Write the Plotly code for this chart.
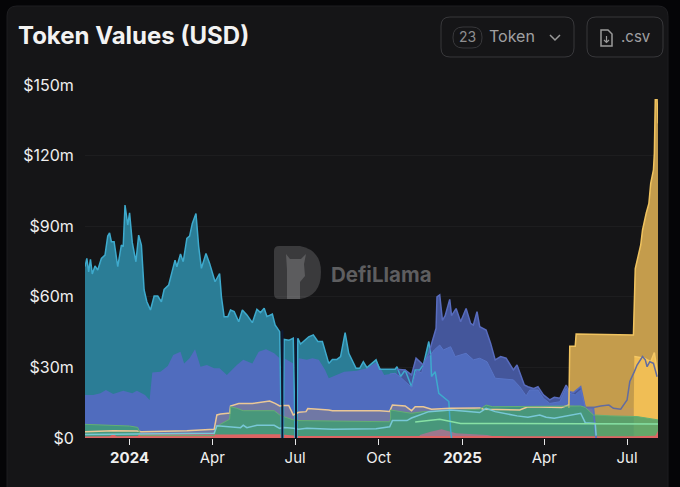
import plotly.graph_objects as go

W, H = 680, 487
FONT = "Inter"

y_ticks = [0, 30, 60, 90, 120, 150]
y_labels = ["$0", "$30m", "$60m", "$90m", "$120m", "$150m"]
x_ticks = ["2024-01-01", "2024-04-01", "2024-07-01", "2024-10-01", "2025-01-01", "2025-04-01", "2025-07-01"]
x_labels = ["<b>2024</b>", "Apr", "Jul", "Oct", "<b>2025</b>", "Apr", "Jul"]

teal_dates = ["2023-11-13", "2023-11-15", "2023-11-17", "2023-11-19", "2023-11-21", "2023-11-24", "2023-11-27",
              "2023-12-01", "2023-12-05", "2023-12-08", "2023-12-10", "2023-12-12", "2023-12-15", "2023-12-19",
              "2023-12-23", "2023-12-25", "2023-12-27", "2023-12-30", "2024-01-01", "2024-01-04", "2024-01-08",
              "2024-01-11", "2024-01-14", "2024-01-17", "2024-01-20", "2024-01-24", "2024-01-28", "2024-02-01",
              "2024-02-05", "2024-02-08", "2024-02-13", "2024-02-17", "2024-02-20", "2024-02-22", "2024-02-26",
              "2024-02-29", "2024-03-04", "2024-03-07", "2024-03-10", "2024-03-14", "2024-03-17", "2024-03-20",
              "2024-03-25", "2024-03-29", "2024-04-04", "2024-04-09", "2024-04-11", "2024-04-14", "2024-04-18",
              "2024-04-21", "2024-04-25", "2024-04-30", "2024-05-04", "2024-05-09", "2024-05-15", "2024-05-20",
              "2024-05-24", "2024-05-28", "2024-05-31", "2024-06-06", "2024-06-09", "2024-06-14", "2024-06-16",
              "2024-06-18", "2024-06-19", "2024-06-24", "2024-06-29", "2024-07-01", "2024-07-03", "2024-07-04",
              "2024-07-07", "2024-07-16", "2024-07-21", "2024-07-26", "2024-07-31", "2024-08-07", "2024-08-11",
              "2024-08-16", "2024-08-20", "2024-08-25", "2024-08-29", "2024-09-06", "2024-09-10", "2024-09-14",
              "2024-09-18", "2024-09-28", "2024-10-02", "2024-10-19", "2024-10-21", "2024-10-25", "2024-10-30",
              "2024-11-06", "2024-11-10", "2024-11-15", "2024-11-19", "2024-11-25", "2024-11-27", "2024-11-28",
              "2024-12-02", "2024-12-06", "2024-12-17", "2024-12-19", "2024-12-20"]
teal_values = [72.8, 76.3, 70.6, 75.9, 69.7, 73.1, 71.4,
               76.3, 77.7, 85.8, 87.2, 83.4, 83.4, 72.8,
               82, 81.3, 99, 90.5, 95.7, 83, 74.9,
               86.2, 82, 62.9, 57.9, 54.4, 60.3, 60.3,
               57.9, 63.1, 65, 70.6, 75.6, 72.8, 78.2,
               74.9, 84.8, 85.8, 91.2, 95.4, 81.3, 72.1,
               78.4, 74.2, 66.4, 69.9, 60, 51.5, 51.5,
               54.4, 53.7, 49.4, 54.4, 52.3, 49, 54.7,
               53.3, 55.1, 51.6, 52.7, 48, 45.2, 0,
               0, 41.9, 41.5, 42.4, 0, 0, 42.4,
               39.9, 43, 43.8, 41, 41, 31.7, 33.4,
               33.4, 34.6, 44.8, 36, 29.6, 29.6, 32.4,
               29.9, 33.2, 29.2, 29.2, 30.3, 26.1, 28.9,
               21.8, 28.9, 28.9, 31, 41, 36, 26.1,
               28.2, 19, 15.5, 3.4, 0]

blue_dates = ["2023-11-13", "2023-11-22", "2023-11-30", "2023-12-06", "2023-12-14", "2023-12-25", "2024-01-04",
              "2024-01-09", "2024-01-18", "2024-01-23", "2024-01-26", "2024-02-04", "2024-02-12", "2024-02-18",
              "2024-02-26", "2024-03-01", "2024-03-07", "2024-03-13", "2024-03-19", "2024-03-26", "2024-04-03",
              "2024-04-09", "2024-04-17", "2024-04-28", "2024-05-05", "2024-05-15", "2024-05-22", "2024-05-30",
              "2024-06-08", "2024-06-14", "2024-06-16", "2024-06-18", "2024-06-19", "2024-06-29", "2024-07-01",
              "2024-07-03", "2024-07-05", "2024-07-14", "2024-07-20", "2024-07-27", "2024-08-03", "2024-08-07",
              "2024-08-24", "2024-09-07", "2024-09-18", "2024-09-29", "2024-10-07", "2024-10-13", "2024-10-19",
              "2024-10-25", "2024-11-06", "2024-11-12", "2024-11-17", "2024-11-21", "2024-11-27", "2024-12-01",
              "2024-12-07", "2024-12-11", "2024-12-19", "2024-12-24", "2024-12-30", "2025-01-05", "2025-01-13",
              "2025-01-20", "2025-01-28", "2025-02-06", "2025-02-26", "2025-03-05", "2025-03-12", "2025-03-16",
              "2025-03-25", "2025-03-31", "2025-04-07", "2025-04-18", "2025-04-25", "2025-04-29", "2025-05-05",
              "2025-05-11", "2025-05-16", "2025-05-25", "2025-05-27", "2025-05-28"]
blue_values = [18.3, 18.3, 19, 20.4, 18.7, 20.1, 19,
               20.1, 18.3, 16.2, 27.8, 28.2, 30.6, 35.3,
               36.7, 31.7, 33.9, 37.7, 30.3, 31, 29.6,
               29.6, 26.8, 31, 33.2, 31.7, 36.7, 37.7,
               36, 33.9, 0, 0, 33.9, 31.7, 0,
               0, 33.9, 33.2, 33.9, 33.2, 28.9, 25.4,
               28.2, 28.6, 29.6, 32.4, 26.8, 27.2, 27.5,
               25.8, 21.5, 28.9, 27.5, 33.2, 35.3, 37.4,
               39.5, 37.4, 38.8, 34.6, 35.3, 36, 33.2,
               33.9, 32.4, 25.4, 24.7, 21.8, 17.9, 20.4,
               20.4, 16.9, 14.7, 15.4, 21.1, 19, 18.3,
               20.4, 13, 12.6, 1.3, 0]

navy_dates = ["2024-10-21", "2024-10-30", "2024-11-06", "2024-11-11", "2024-11-19", "2024-11-25", "2024-12-03",
              "2024-12-04", "2024-12-07", "2024-12-10", "2024-12-13", "2024-12-18", "2024-12-20", "2024-12-25",
              "2024-12-30", "2025-01-05", "2025-01-10", "2025-01-13", "2025-01-17", "2025-01-20", "2025-01-27",
              "2025-02-01", "2025-02-06", "2025-02-12", "2025-02-18", "2025-02-26", "2025-03-02", "2025-03-10",
              "2025-03-14", "2025-03-20", "2025-03-25", "2025-03-31", "2025-04-07", "2025-04-12", "2025-04-18",
              "2025-04-25", "2025-04-29", "2025-05-03", "2025-05-11", "2025-05-16", "2025-05-25", "2025-05-27",
              "2025-05-28"]
navy_values = [29.2, 28.9, 26.8, 33.9, 31, 36, 46.6,
               60, 60.8, 50, 52, 58.9, 52, 55,
               49.4, 55, 48.7, 48, 53.7, 47.3, 45.9,
               40.2, 33.2, 34.6, 33.9, 28.9, 31, 22.5,
               21.8, 21, 21.8, 18.3, 16.2, 17.3, 16.9,
               22.5, 19.7, 19.3, 21.8, 13, 13, 1.3,
               0]

steel_dates = ["2025-05-16", "2025-05-25", "2025-06-02", "2025-06-11", "2025-06-16", "2025-06-24", "2025-07-01",
               "2025-07-04", "2025-07-09", "2025-07-12", "2025-07-18", "2025-07-21", "2025-07-23", "2025-07-26",
               "2025-07-30", "2025-08-03"]
steel_values = [13, 13, 13.6, 14, 12.6, 12.2, 16.2,
                24, 28.2, 31, 34.6, 33.2, 30.3, 32.4,
                31.7, 26]

amber_dates = ["2025-04-28", "2025-04-29", "2025-05-05", "2025-05-06", "2025-07-08", "2025-07-09", "2025-07-10",
               "2025-07-16", "2025-07-18", "2025-07-22", "2025-07-25", "2025-07-27", "2025-07-30", "2025-07-31",
               "2025-08-01", "2025-08-03", "2025-08-04"]
amber_values = [13, 39, 39, 44.2, 43.8, 62, 72,
                82, 88.4, 95.5, 99.7, 108.2, 113.9, 121,
                143.7, 143.7, 133.7]

yellow_dates = ["2025-07-08", "2025-07-09", "2025-07-14", "2025-07-20", "2025-07-27", "2025-07-31", "2025-08-04"]
yellow_values = [0, 34.6, 34.2, 33.9, 32.4, 36.3, 26]

beige_dates = ["2023-11-13", "2023-12-14", "2024-01-09", "2024-01-14", "2024-03-04", "2024-04-03", "2024-04-06",
               "2024-04-10", "2024-04-18", "2024-04-20", "2024-04-21", "2024-04-25", "2024-04-30", "2024-05-15",
               "2024-06-03", "2024-06-09", "2024-06-14", "2024-06-19", "2024-06-24", "2024-06-29", "2024-07-05",
               "2024-07-13", "2024-07-15", "2024-08-07", "2024-08-11", "2024-10-02", "2024-10-13", "2024-10-16",
               "2024-10-30", "2024-11-06", "2024-11-10", "2024-11-19", "2024-11-28", "2024-12-19", "2025-01-20",
               "2025-01-24", "2025-02-12", "2025-03-05", "2025-03-14", "2025-03-27", "2025-04-01", "2025-04-20",
               "2025-04-28"]
beige_values = [2.7, 3.1, 3, 2.7, 3.1, 3.7, 9.8,
                10.2, 10.5, 10.5, 13.6, 14, 14.7, 14.7,
                15.7, 14.7, 13.6, 13.8, 13.8, 9.8, 10.9,
                11.2, 12.5, 11.9, 11.6, 11.6, 11.3, 14,
                13.6, 11.6, 13.3, 13.3, 12.2, 12.6, 12.8,
                12.2, 12.2, 11.9, 13.3, 13.3, 13, 13, 14]
beige_late_dates = ["2025-05-16", "2025-06-24", "2025-07-08", "2025-07-09"]
beige_late_values = [13, 12.8, 12.8, 0]

green_dates = ["2023-11-13", "2024-01-01", "2024-01-10", "2024-01-13", "2024-04-03", "2024-04-06", "2024-04-20",
               "2024-04-21", "2024-04-28", "2024-05-05", "2024-06-08", "2024-06-14", "2024-06-19", "2024-06-29",
               "2024-07-05", "2024-10-13", "2024-10-14", "2024-10-14", "2024-11-06", "2024-11-19", "2025-01-20",
               "2025-01-27", "2025-02-03", "2025-05-11", "2025-05-16", "2025-05-25", "2025-06-13", "2025-07-12",
               "2025-08-04"]
green_values = [5.8, 5.1, 4.5, 1, 1, 5, 8,
                13.3, 12.6, 11.6, 11.6, 9.8, 9, 7.7,
                7.4, 6.9, 8.4, 11.9, 10.5, 11.2, 12.2,
                14, 13.3, 13.6, 13, 9.8, 9.4, 9.1,
                7.7]

sky_dates = ["2023-11-13", "2024-01-10", "2024-03-04", "2024-04-03", "2024-04-06", "2024-04-21", "2024-05-02",
             "2024-05-05", "2024-05-09", "2024-05-20", "2024-06-08", "2024-06-14", "2024-06-19", "2024-06-29",
             "2024-07-05", "2024-07-14", "2024-08-11", "2024-09-28", "2024-10-13", "2024-10-16", "2024-11-01",
             "2024-11-06", "2024-11-25", "2024-12-19", "2025-01-20", "2025-01-27", "2025-02-06", "2025-03-02",
             "2025-03-14", "2025-03-27", "2025-04-03", "2025-04-12", "2025-05-11", "2025-05-16", "2025-05-27",
             "2025-05-28"]
sky_values = [1.5, 1.7, 2, 2, 5.2, 4.8, 4.4,
              5.4, 4.4, 5.4, 5.4, 4.1, 4.5, 4.1,
              3.7, 4.1, 3.7, 3.9, 4.8, 7.4, 7.4,
              8.5, 11.2, 11.9, 10.8, 12.6, 11.2, 9.4,
              8.8, 9.8, 8.8, 8.4, 10.5, 6.5, 6.2,
              1]

mint_dates = ["2024-11-10", "2024-12-07", "2024-12-30", "2025-05-16", "2025-06-13", "2025-08-04"]
mint_values = [6.8, 8, 6.2, 6, 6.1, 5.9]

pink_dates = ["2024-11-15", "2024-11-27", "2024-12-09", "2024-12-25", "2025-01-28", "2025-02-10"]
pink_values = [1.3, 2.7, 3.7, 2, 1.3, 0.3]

red_dates = ["2023-11-13", "2023-12-10", "2023-12-14", "2023-12-18", "2024-01-10", "2024-01-12", "2024-04-21",
             "2024-06-14", "2024-07-05", "2025-02-10", "2025-07-09", "2025-08-01", "2025-08-04"]
red_values = [0.6, 0.7, 1.6, 0.7, 0.8, 1.6, 1.5,
              1.6, 0.9, 0.8, 0.7, 1, 3]

outage_dates = ["2024-06-17", "2024-07-02"]
outage_tops = [46, 43]


def px(x):
    return x / W


def py(y):
    return 1 - y / H


def rounded(x0, y0, x1, y1, r):
    # rounded box given in page pixels, as a paper-coordinate path
    pts = [("M", x0 + r, y0), ("L", x1 - r, y0), ("Q", x1, y0, x1, y0 + r), ("L", x1, y1 - r),
           ("Q", x1, y1, x1 - r, y1), ("L", x0 + r, y1), ("Q", x0, y1, x0, y1 - r), ("L", x0, y0 + r),
           ("Q", x0, y0, x0 + r, y0)]
    return pixel_path(pts) + " Z"


def pixel_path(pts):
    parts = []
    for p in pts:
        nums = p[1:]
        coords = [f"{px(nums[i]):.5f},{py(nums[i + 1]):.5f}" for i in range(0, len(nums), 2)]
        parts.append(p[0] + " ".join(coords))
    return " ".join(parts)


def paper_shape(path, fill="rgba(0,0,0,0)", line="rgba(0,0,0,0)", width=1):
    return dict(type="path", xref="paper", yref="paper", path=path, fillcolor=fill,
                line=dict(color=line, width=width), layer="below")


def label(text, x, y, size, color, anchor="left"):
    return dict(text=text, x=px(x), y=py(y), xref="paper", yref="paper", showarrow=False,
                xanchor=anchor, yanchor="middle", font=dict(family=FONT, size=size, color=color))


fills = [
    (teal_dates, teal_values, "rgb(43,125,150)"),
    (amber_dates, amber_values, "rgb(196,156,76)"),
    (navy_dates, navy_values, "rgb(68,86,155)"),
    (blue_dates, blue_values, "rgb(80,108,190)"),
    (yellow_dates, yellow_values, "rgb(240,190,85)"),
    (beige_dates + beige_late_dates, beige_values + beige_late_values, "rgba(190,150,110,0.3)"),
    (green_dates, green_values, "rgba(62,160,112,0.78)"),
    (pink_dates, pink_values, "rgba(195,105,150,0.7)"),
    (red_dates, red_values, "rgb(222,100,100)"),
]
blue_line_start = blue_dates.index("2024-10-13")
lines = [
    (teal_dates, teal_values, "rgb(62,170,205)", 1.5),
    (navy_dates, navy_values, "rgb(88,108,190)", 1.5),
    (blue_dates[blue_line_start:], blue_values[blue_line_start:], "rgb(88,116,198)", 1),
    (amber_dates, amber_values, "rgb(240,195,95)", 1.5),
    (yellow_dates[1:], yellow_values[1:], "rgb(245,200,100)", 1.5),
    (steel_dates, steel_values, "rgb(98,108,160)", 1.5),
    (beige_dates, beige_values, "rgb(235,200,150)", 1.5),
    (green_dates, green_values, "rgb(100,175,115)", 1),
    (sky_dates, sky_values, "rgb(120,200,215)", 1.5),
    (mint_dates, mint_values, "rgb(135,225,165)", 1.5),
]

fig = go.Figure()
for d, v, c in fills:
    fig.add_trace(go.Scatter(x=d, y=v, mode="none", fill="tozeroy", fillcolor=c, hoverinfo="skip"))
for d, v, c, w in lines:
    fig.add_trace(go.Scatter(x=d, y=v, mode="lines", line=dict(color=c, width=w), hoverinfo="skip"))

outage_x, outage_y = [], []
for d, top in zip(outage_dates, outage_tops):
    outage_x += [d, d, None]
    outage_y += [0, top, None]
fig.add_trace(go.Scatter(x=outage_x, y=outage_y, mode="lines", hoverinfo="skip",
                         line=dict(color="rgb(14,24,52)", width=2)))

shapes = [
    paper_shape(rounded(7, 6, 668, 520, 10), fill="#151517", line="#1f1f22"),
    paper_shape(rounded(441, 17, 574, 57, 9), line="#38383b"),
    paper_shape(rounded(587, 17, 663, 57, 9), line="#38383b"),
    paper_shape(rounded(453, 27, 482, 48, 10), line="#38383b"),
    paper_shape(pixel_path([("M", 550, 35), ("L", 555, 40), ("L", 560, 35)]), line="#9a9a9a", width=1.5),
    paper_shape(pixel_path([("M", 601, 30), ("L", 608, 30), ("L", 612, 34), ("L", 612, 46), ("L", 601, 46)]) + " Z",
                line="#9a9a9a", width=1.5),
    paper_shape(pixel_path([("M", 606.5, 36), ("L", 606.5, 42), ("M", 604, 40), ("L", 606.5, 42.5), ("L", 609, 40)]),
                line="#9a9a9a", width=1.2),
    # watermark
    paper_shape(pixel_path([("M", 279, 246), ("L", 300, 246), ("Q", 321, 250, 321, 272), ("Q", 321, 296, 300, 299),
                            ("L", 279, 299), ("Q", 274, 299, 274, 294), ("L", 274, 251), ("Q", 274, 246, 279, 246)]) + " Z",
                fill="#3a3a3c"),
    paper_shape(pixel_path([("M", 286, 254), ("L", 290, 259), ("L", 301, 259), ("L", 306, 254), ("L", 304, 264),
                            ("L", 305, 276), ("L", 300, 282), ("L", 300, 299), ("L", 287, 299), ("L", 287, 270)]) + " Z",
                fill="#5c5c5e"),
]

annotations = [
    label("<b>Token Values (USD)</b>", 16, 36, 24, "#f2f2f2"),
    label("23", 467.5, 37, 14, "#8e8e90", "center"),
    label("Token", 487, 36.5, 16, "#a0a0a2"),
    label(".csv", 619, 37, 15, "#a0a0a2"),
    label("<b>DefiLlama</b>", 329, 274, 20.5, "#5e5e60"),
]

fig.update_layout(
    width=W, height=H, margin=dict(l=0, r=0, t=0, b=0, autoexpand=False), autosize=False,
    paper_bgcolor="#050507", plot_bgcolor="rgba(0,0,0,0)", showlegend=False,
    shapes=shapes, annotations=annotations,
    font=dict(family=FONT, color="#efefef", size=15),
    xaxis=dict(domain=[px(85), px(658)], range=["2023-11-13", "2025-08-04"], tickvals=x_ticks, ticktext=x_labels,
               ticks="outside", ticklen=6, tickcolor="#e8e8e8", tickwidth=1, showgrid=False, zeroline=False,
               showline=False, tickangle=0),
    yaxis=dict(domain=[py(438), py(85)], range=[0, 150], tickvals=y_ticks, ticktext=y_labels,
               ticks="outside", ticklen=7, tickcolor="rgba(0,0,0,0)", showgrid=True, tickfont=dict(size=16),
               gridcolor="rgba(255,255,255,0.035)", gridwidth=1, zeroline=False, showline=False),
)

fig.write_html("out.html", config=dict(displayModeBar=False),
               post_script="document.body.style.margin='0';document.documentElement.style.background='#050507';")
